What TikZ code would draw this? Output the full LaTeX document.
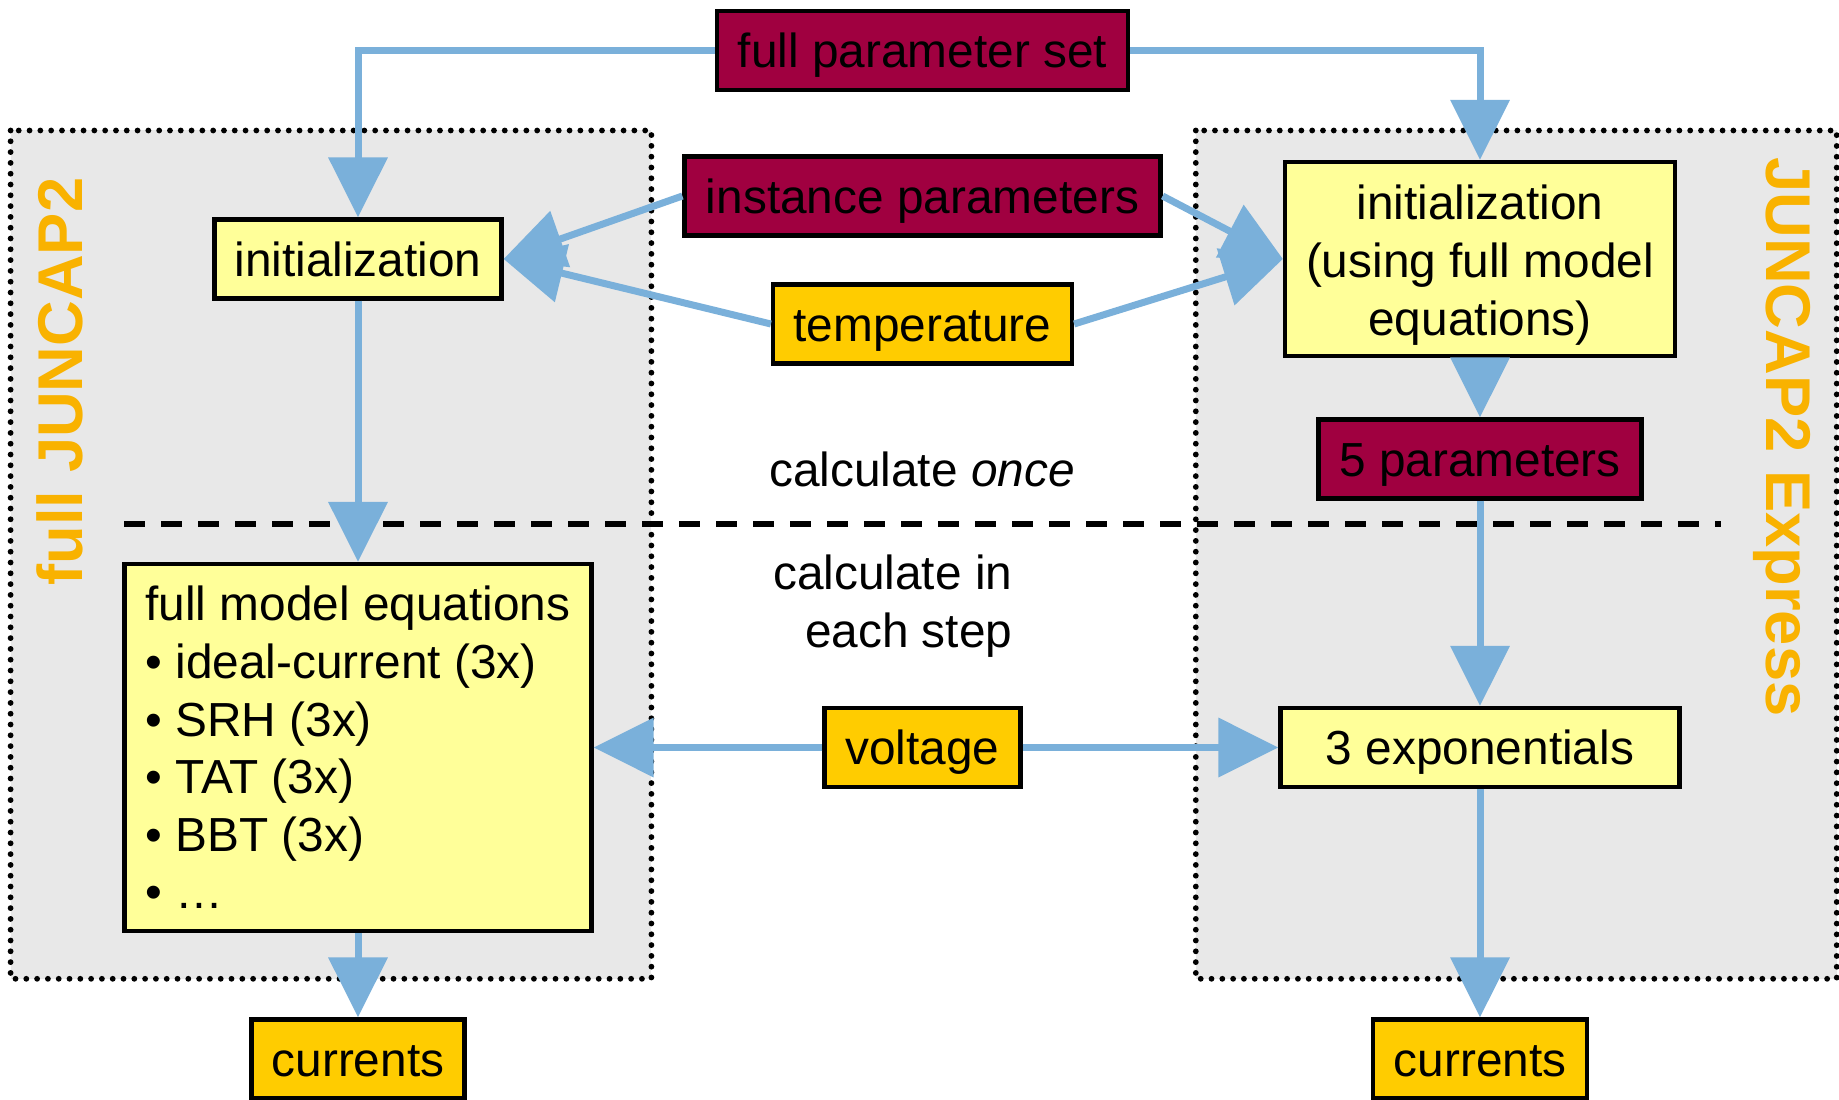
\documentclass[tikz,border=0pt]{standalone}
\usepackage{fontspec}
\setmainfont{Liberation Sans}
\usetikzlibrary{arrows.meta}

\definecolor{wine}{RGB}{160,0,64}
\definecolor{gold}{RGB}{255,204,0}
\definecolor{paleyellow}{RGB}{255,255,153}
\definecolor{panelgrey}{RGB}{232,232,232}
\definecolor{flowblue}{RGB}{122,176,218}
\definecolor{tagorange}{RGB}{249,178,0}

\begin{document}
\begin{tikzpicture}[font=\fontsize{13.6}{16.4}\selectfont,
frame/.style={draw=black,line width=1.2pt,inner sep=0pt},
single/.style={frame,minimum height=0.79cm,text height=1.1em,text depth=0.12em},
parbox/.style={single,fill=wine},
inbox/.style={single,fill=gold},
calcbox/.style={frame,fill=paleyellow},
panel/.style={fill=panelgrey,line width=0.058cm,line cap=round,dash pattern=on 0pt off 0.108cm},
tag/.style={text=tagorange,font=\fontsize{18}{21.6}\selectfont\bfseries,inner sep=0pt},
arr/.style={-{Triangle[length=0.6cm,width=0.58cm]},draw=flowblue,line width=0.07cm}]
\useasboundingbox (0,0) rectangle (18.39,-11);
\draw[panel] (0.106,-1.305) rectangle (6.514,-9.788);
\draw[panel] (11.958,-1.305) rectangle (18.367,-9.788);
\draw[line width=0.06cm,dash pattern=on 0.21cm off 0.16cm] (1.244,-5.235) -- (17.21,-5.235);
\node[tag,rotate=90] (fulltag) at (0.60,-3.815) {full JUNCAP2};
\node[tag,rotate=-90] (expresstag) at (17.815,-4.37) {JUNCAP2 Express};
\node[inner sep=0pt,text height=1.1em,text depth=0.12em] (once) at (9.22,-4.69) {calculate \textit{once}};
\node[inner sep=0pt,align=right,anchor=east] (each) at (10.13,-6.06) {calculate in\\each step};
\node[parbox,minimum width=4.11cm] (fullset) at (9.225,-0.505) {full parameter set};
\node[parbox,minimum width=4.76cm] (inst) at (9.225,-1.96) {instance parameters};
\node[inbox,minimum width=2.99cm] (temp) at (9.225,-3.24) {temperature};
\node[calcbox,single,minimum width=2.87cm] (initL) at (3.58,-2.59) {initialization};
\node[calcbox,align=center,minimum width=3.90cm,minimum height=1.94cm] (initR) at (14.80,-2.59) {\rule{0pt}{0.47cm}initialization\\(using full model\\equations)};
\node[parbox,minimum width=3.23cm] (five) at (14.80,-4.59) {5 parameters};
\node[calcbox,align=left,minimum width=4.67cm,minimum height=3.67cm] (fm) at (3.58,-7.475) {full model equations\\• ideal-current (3x)\\• SRH (3x)\\• TAT (3x)\\• BBT (3x)\\• …};
\node[inbox,minimum width=1.96cm] (volt) at (9.225,-7.475) {voltage};
\node[calcbox,single,minimum width=3.99cm] (expo) at (14.80,-7.475) {3 exponentials};
\node[inbox,minimum width=2.13cm] (curL) at (3.58,-10.59) {currents};
\node[inbox,minimum width=2.14cm] (curR) at (14.80,-10.59) {currents};
\draw[arr] (fullset.west) -| (initL.north);
\draw[arr] (fullset.east) -| (initR.north);
\draw[arr] (inst.west) -- (initL.east);
\draw[arr] (temp.west) -- (initL.east);
\draw[arr] (inst.east) -- (initR.west);
\draw[arr] (temp.east) -- (initR.west);
\draw[arr] (initL) -- (fm);
\draw[arr] (fm) -- (curL);
\draw[arr] (initR) -- (five);
\draw[arr] (five) -- (expo);
\draw[arr] (expo) -- (curR);
\draw[arr] (volt) -- (fm);
\draw[arr] (volt) -- (expo);
\end{tikzpicture}
\end{document}
